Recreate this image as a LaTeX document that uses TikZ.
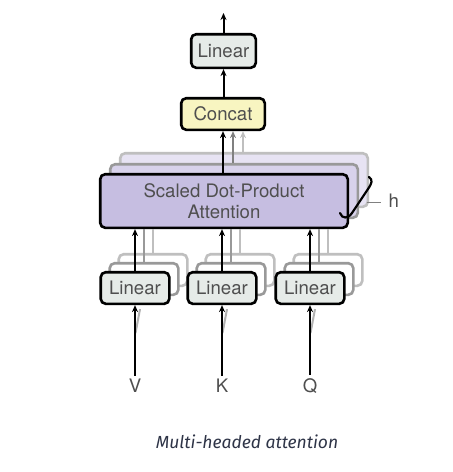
\documentclass[tikz,border=0pt]{standalone}
\usepackage{fontspec}
\newfontfamily\diagfont{TeX Gyre Heros}
\newfontfamily\capfont{Fira Sans}
\usetikzlibrary{arrows.meta,positioning,calc}
\definecolor{linfill}{HTML}{E6EBE8}
\definecolor{catfill}{HTML}{F8F5C1}
\definecolor{attfill}{HTML}{C6BEE1}
\definecolor{attghost}{HTML}{D8D2EB}
\definecolor{attghosttwo}{HTML}{E7E3F3}
\definecolor{txtgray}{HTML}{4F4F4F}
\definecolor{capblue}{HTML}{2E3447}

\begin{document}
\begin{tikzpicture}[x=1pt, y=-1pt,
  font=\diagfont\fontsize{18.6}{20}\selectfont,
  box/.style={rectangle, rounded corners=5pt, draw, line width=2.6pt, text=txtgray, inner sep=0pt, align=center},
  linbox/.style={box, fill=linfill, minimum width=68.6pt, minimum height=31.6pt},
  ghostlin/.style={box, draw=#1, fill=white, minimum width=68.6pt, minimum height=31.6pt},
  ghostatt/.style={box, draw=gray!80, fill=#1, minimum width=247.6pt, minimum height=53.6pt},
  arr/.style={-{Stealth[length=7pt,width=6pt]}, line width=2pt},
  thin/.style={line width=2pt, #1}]

  \fill[white] (0,0) rectangle (453,472);
  \useasboundingbox (0,0) rectangle (453,472);

  % Heads behind
  \node[ghostatt=attghosttwo, draw=gray!50] (att3) at (244,180) {};
  \node[ghostatt=attghost] (att2) at (234,191) {};

  % Linear heads behind
  \foreach \nm/\cx in {V/135, K/222, Q/310} {
    \node[ghostlin=gray!50] (lin\nm3) at (\cx+18,270) {};
    \node[ghostlin=gray!80] (lin\nm2) at (\cx+9,279) {};
  }

  % Scaled Dot-Product Attention
  \node[box, fill=attfill, minimum width=247.6pt, minimum height=53.6pt] (att) at (224,201) {Scaled Dot-Product\\[1pt]Attention};

  % Linear projections
  \node[linbox] (linV) at (135,288) {Linear};
  \node[linbox] (linK) at (222,288) {Linear};
  \node[linbox] (linQ) at (310,288) {Linear};

  % Concat and output Linear
  \node[box, fill=catfill, minimum width=83.6pt, minimum height=31.6pt] (concat) at (223,114) {Concat};
  \node[box, fill=linfill, minimum width=64.6pt, minimum height=33.6pt] (linout) at (223.5,51) {Linear};
  \coordinate (outtop) at (223.5,13);

  % Inputs
  \node[text=txtgray] (V) at (135,386) {V};
  \node[text=txtgray] (K) at (222,386) {K};
  \node[text=txtgray] (Q) at (310,386) {Q};

  % Arrows
  \draw[arr] (linout.north) -- (outtop);
  \draw[arr] (concat.north -| linout) -- (linout.south);
  \draw[arr] (att.north -| concat) -- (concat.south);
  \draw[arr, gray] (att2.north -| 233,0) -- (concat.south -| 233,0);
  \draw[arr, gray!50] (att3.north -| 243,0) -- (concat.south -| 243,0);

  \foreach \nm in {V, K, Q} {
    \draw[thin=gray!80] (lin\nm2.north) -- (lin\nm2.north |- att.south);
    \draw[thin=gray!50] (lin\nm3.north) -- (lin\nm3.north |- att.south);
    \draw[arr] (lin\nm.north) -- (lin\nm.north |- att.south);
    \draw[thin=gray!60, line width=2pt] ($(lin\nm.south)+(0.5,28)$) -- ($(lin\nm.south)+(5,4)$);
    \draw[arr] (\nm.north) -- (lin\nm.south);
  }

  % h heads
  \draw[line width=2.2pt, line cap=round] (340,213) .. controls (342,219) and (348,219) .. (352,213) -- (368,189) .. controls (372,183) and (373,180) .. (369,177);
  \draw[gray, line width=1pt] (367,202) -- (381,202);
  \node[text=txtgray, anchor=west] (h) at (385,201) {h};

  % Caption
  \node[font=\capfont\itshape\fontsize{17.5}{19}\selectfont, text=capblue] (cap) at (247,442) {Multi-headed attention};
\end{tikzpicture}
\end{document}
